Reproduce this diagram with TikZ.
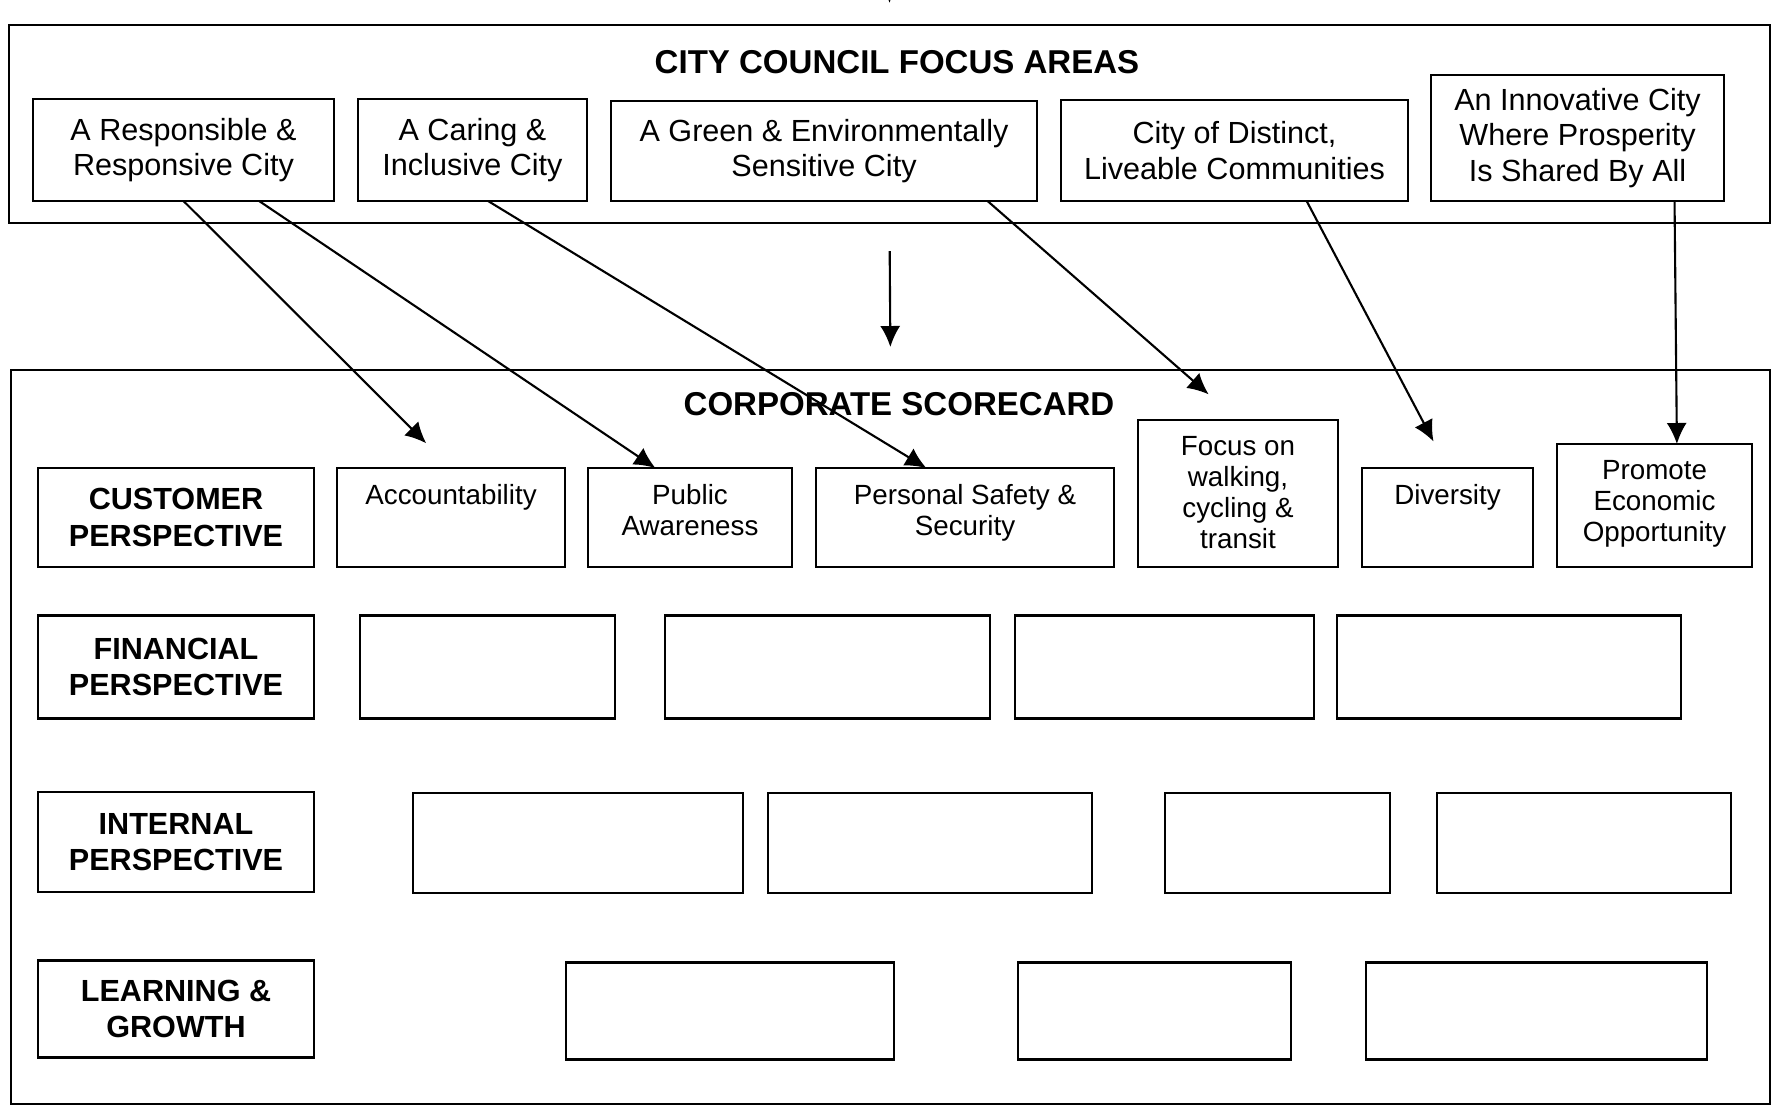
\documentclass[tikz,border=0pt]{standalone}
\usepackage{fontspec}
\setmainfont{Liberation Sans}
\usepackage{tikz}
\usetikzlibrary{arrows.meta, positioning}
\tikzset{
Panel/.style={
	draw, line width=0.7pt,
	inner sep=0pt, outer sep=0pt
},
Title/.style={
	font=\fontsize{9.4}{11}\selectfont\bfseries,
	inner sep=0pt
},
Area/.style={
	draw, line width=0.7pt,
	align=center,
	inner sep=0pt, outer sep=0pt,
	font=\fontsize{8.7}{10}\selectfont
},
Perspective/.style={
	Area,
	font=\fontsize{8.7}{10.4}\selectfont\bfseries
},
Goal/.style={
	draw, line width=0.7pt,
	inner sep=0pt, outer sep=0pt
},
GoalText/.style={
	align=center,
	inner sep=0pt,
	font=\fontsize{7.9}{8.8}\selectfont
},
Cell/.style={
	Goal
},
Link/.style={
	draw=black, line width=0.6pt,
	-{Latex[length=0.21cm, width=0.2cm]}
}
}

\begin{document}
\begin{tikzpicture}
	\useasboundingbox[fill=white] (0,0) rectangle (17.73,-11.13);

	% focus areas
	\node[Panel, minimum width=17.61cm, minimum height=1.98cm] (council) at (8.895,-1.24) {};
	\node[Title] (councilTitle) at (8.97,-0.62) {CITY COUNCIL FOCUS AREAS};

	\node[Area, minimum width=3.01cm, minimum height=1.02cm, anchor=south west] (resp) at (0.33,-2.01) {A Responsible \&\\Responsive City};
	\node[Area, minimum width=2.29cm, minimum height=1.02cm, right=0.24cm of resp.south east, anchor=south west] (caring) {A Caring \&\\Inclusive City};
	\node[Area, minimum width=4.26cm, minimum height=1.00cm, right=0.24cm of caring.south east, anchor=south west] (green) {A Green \& Environmentally\\Sensitive City};
	\node[Area, minimum width=3.47cm, minimum height=1.01cm, right=0.24cm of green.south east, anchor=south west] (distinct) {City of Distinct,\\Liveable Communities};
	\node[Area, minimum width=2.93cm, minimum height=1.26cm, right=0.23cm of distinct.south east, anchor=south west] (innov) {An Innovative City\\Where Prosperity\\Is Shared By All};

	% scorecard
	\node[Panel, minimum width=17.59cm, minimum height=7.34cm] (score) at (8.905,-7.37) {};
	\node[Title] (scoreTitle) at (8.99,-4.04) {CORPORATE SCORECARD};

	\node[Perspective, minimum width=2.76cm, minimum height=0.99cm, anchor=south west] (customer) at (0.38,-5.67) {CUSTOMER\\PERSPECTIVE};
	\node[Goal, minimum width=2.28cm, minimum height=0.99cm, right=0.23cm of customer.south east, anchor=south west] (acc) {};
	\node[Goal, minimum width=2.04cm, minimum height=0.99cm, right=0.23cm of acc.south east, anchor=south west] (aware) {};
	\node[Goal, minimum width=2.98cm, minimum height=0.99cm, right=0.24cm of aware.south east, anchor=south west] (safety) {};
	\node[Goal, minimum width=2.00cm, minimum height=1.47cm, right=0.24cm of safety.south east, anchor=south west] (walk) {};
	\node[Goal, minimum width=1.71cm, minimum height=0.99cm, right=0.24cm of walk.south east, anchor=south west] (diverse) {};
	\node[Goal, minimum width=1.95cm, minimum height=1.23cm, right=0.24cm of diverse.south east, anchor=south west] (promote) {};

	\node[GoalText, below=0.16cm of acc.north] (accText) {Accountability};
	\node[GoalText, below=0.16cm of aware.north] (awareText) {Public\\Awareness};
	\node[GoalText, below=0.16cm of safety.north] (safetyText) {Personal Safety \&\\Security};
	\node[GoalText, below=0.16cm of walk.north] (walkText) {Focus on\\walking,\\cycling \&\\transit};
	\node[GoalText, below=0.16cm of diverse.north] (diverseText) {Diversity};
	\node[GoalText, below=0.16cm of promote.north] (promoteText) {Promote\\Economic\\Opportunity};

	\node[Perspective, minimum width=2.76cm, minimum height=1.03cm] (financial) at (1.76,-6.67) {FINANCIAL\\PERSPECTIVE};
	\node[Cell, minimum width=2.55cm, minimum height=1.03cm] (fin1) at (4.875,-6.67) {};
	\node[Cell, minimum width=3.25cm, minimum height=1.03cm] (fin2) at (8.275,-6.67) {};
	\node[Cell, minimum width=2.99cm, minimum height=1.03cm] (fin3) at (11.645,-6.67) {};
	\node[Cell, minimum width=3.44cm, minimum height=1.03cm] (fin4) at (15.09,-6.67) {};

	\node[Perspective, minimum width=2.76cm, minimum height=1.00cm] (internal) at (1.76,-8.42) {INTERNAL\\PERSPECTIVE};
	\node[Cell, minimum width=3.30cm, minimum height=1.00cm] (int1) at (5.78,-8.43) {};
	\node[Cell, minimum width=3.24cm, minimum height=1.00cm] (int2) at (9.30,-8.43) {};
	\node[Cell, minimum width=2.25cm, minimum height=1.00cm] (int3) at (12.775,-8.43) {};
	\node[Cell, minimum width=2.94cm, minimum height=1.00cm] (int4) at (15.84,-8.43) {};

	\node[Perspective, minimum width=2.76cm, minimum height=0.97cm] (learning) at (1.76,-10.09) {LEARNING \&\\GROWTH};
	\node[Cell, minimum width=3.28cm, minimum height=0.97cm] (lrn1) at (7.30,-10.11) {};
	\node[Cell, minimum width=2.73cm, minimum height=0.97cm] (lrn2) at (11.545,-10.11) {};
	\node[Cell, minimum width=3.41cm, minimum height=0.97cm] (lrn3) at (15.365,-10.11) {};

	% links
	\coordinate (feed) at (8.895,0.6);
	\draw[Link, shorten >=0.22cm] (feed) -- (council.north);
	\draw[Link, shorten <=0.28cm, shorten >=0.23cm] (council.south) -- (score.north);

	\draw[Link, shorten >=0.35cm] (resp.south) -- (acc.north);
	\draw[Link] (resp.-34) -- (aware.125);
	\draw[Link] (caring.-73) -- (safety.128);
	\draw[Link, shorten >=0.39cm] (green.-17) -- (walk.north);
	\draw[Link, shorten >=0.30cm] (distinct.-35) -- (diverse.north);
	\draw[Link] (innov.-33) -- (promote.70);
\end{tikzpicture}
\end{document}
